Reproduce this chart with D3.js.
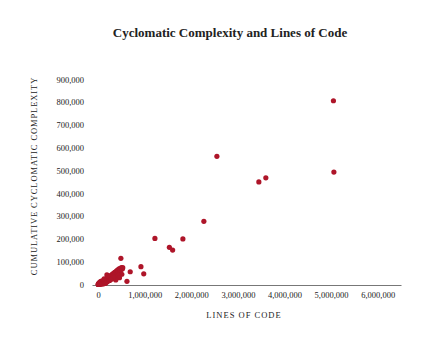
<!DOCTYPE html>
<html>
<head>
<meta charset="utf-8">
<script src="https://cdn.jsdelivr.net/npm/d3@7"></script>
<style>
  html, body { margin: 0; padding: 0; background: #fff; }
  svg { display: block; }
  text { font-family: "Liberation Serif", "Times New Roman", serif; fill: #222; }
</style>
</head>
<body>
<svg id="chart" width="433" height="350"></svg>
<script>
// Lines of code per project (x) against cumulative cyclomatic complexity (y)
const linesOfCode = [
  5050000, 2550000, 5060000, 3450000, 3600000, 2270000, 1220000, 1820000,
  1530000, 1600000, 920000, 980000, 490000, 690000, 620000, 190000,
  5000, 12000, 20000, 30000, 8000, 45000, 60000, 70000, 85000, 100000,
  110000, 120000, 130000, 140000, 150000, 160000, 170000, 180000, 190000,
  200000, 210000, 220000, 230000, 240000, 250000, 260000, 270000, 280000,
  290000, 300000, 310000, 320000, 330000, 340000, 350000, 360000, 370000,
  380000, 390000, 400000, 410000, 420000, 430000, 440000, 450000, 460000,
  470000, 480000, 500000, 520000, 530000, 510000, 300000, 250000, 200000,
  150000, 100000, 50000, 350000, 400000, 440000, 460000, 380000, 60000,
  40000, 90000, 25000, 130000, 10000, 2000, 15000, 210000, 330000, 270000,
  80000, 120000, 160000, 35000
];
const complexity = [
  806000, 562000, 493000, 450000, 468000, 277000, 202000, 200000,
  163000, 151000, 78000, 47000, 115000, 56000, 14000, 42000,
  800, 1500, 2500, 3000, 1200, 5000, 6000, 9000, 8000, 12000,
  9000, 15000, 11000, 18000, 14000, 20000, 17000, 24000, 19000,
  27000, 22000, 30000, 25000, 33000, 28000, 36000, 31000, 40000,
  34000, 43000, 37000, 47000, 40000, 50000, 44000, 53000, 47000,
  56000, 50000, 60000, 45000, 63000, 52000, 66000, 55000, 70000,
  58000, 62000, 74000, 68000, 74000, 45000, 25000, 18000, 12000,
  6000, 4000, 2000, 30000, 35000, 40000, 30000, 20000, 14000,
  10000, 16000, 7000, 25000, 300, 200, 5000, 38000, 30000, 22000,
  2000, 3000, 5000, 500
];

const xTicks = [0, 1000000, 2000000, 3000000, 4000000, 5000000, 6000000];
const yTicks = [0, 100000, 200000, 300000, 400000, 500000, 600000, 700000, 800000, 900000];
const xExtent = [-130000, 6500000];
const yExtent = [0, 900000];

const titleText = "Cyclomatic Complexity and Lines of Code";
const xLabel = "LINES OF CODE";
const yLabel = "CUMULATIVE CYCLOMATIC COMPLEXITY";

const svg = d3.select("#chart");
const fmt = d3.format(",");

const x = d3.scaleLinear().domain(xExtent).range([92, 401]);
const y = d3.scaleLinear().domain(yExtent).range([284.5, 79.3]);

// title
svg.append("text")
  .attr("x", 230).attr("y", 37)
  .attr("text-anchor", "middle")
  .style("font-size", "13px")
  .style("font-weight", "bold")
  .text(titleText);

// horizontal axis with its baseline
const xAxis = svg.append("g")
  .attr("transform", `translate(0,${y(0) + 0.5})`)
  .call(d3.axisBottom(x).tickValues(xTicks).tickFormat(fmt).tickSize(0).tickPadding(7));
xAxis.select(".domain").attr("stroke", "#777").attr("stroke-width", 1);
xAxis.selectAll("text")
  .style("font-family", "'Liberation Serif', serif")
  .style("font-size", "8.5px").attr("fill", "#333");

// vertical tick labels, no axis line
const yAxis = svg.append("g")
  .attr("transform", `translate(${x(0) - 14},0)`)
  .call(d3.axisLeft(y).tickValues(yTicks).tickFormat(fmt).tickSize(0).tickPadding(0));
yAxis.select(".domain").remove();
yAxis.selectAll("text")
  .style("font-family", "'Liberation Serif', serif")
  .style("font-size", "8.5px").attr("fill", "#333");

// axis titles
svg.append("text")
  .attr("x", 244).attr("y", 317.5)
  .attr("text-anchor", "middle")
  .style("font-size", "8.5px")
  .style("letter-spacing", "1px")
  .attr("fill", "#333")
  .text(xLabel);

svg.append("text")
  .attr("transform", "translate(37,176) rotate(-90)")
  .attr("text-anchor", "middle")
  .style("font-size", "8.5px")
  .style("letter-spacing", "0.9px")
  .attr("fill", "#333")
  .text(yLabel);

// points
svg.append("g")
  .selectAll("circle")
  .data(d3.range(linesOfCode.length))
  .join("circle")
  .attr("cx", i => x(linesOfCode[i]))
  .attr("cy", i => y(complexity[i]))
  .attr("r", 2.6)
  .attr("fill", "#ae1529");
</script>
</body>
</html>
